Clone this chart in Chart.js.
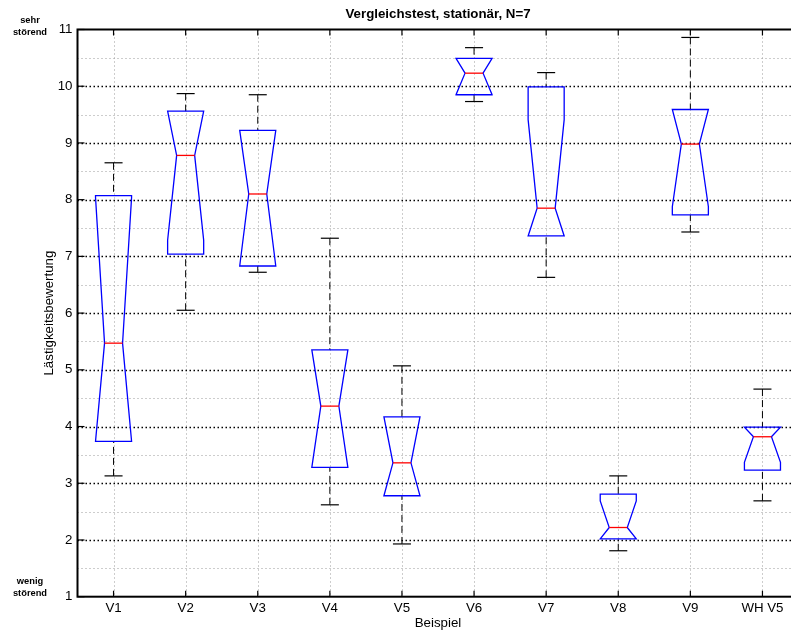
<!DOCTYPE html>
<html>
<head>
<meta charset="utf-8">
<title>Vergleichstest, stationär, N=7</title>
<script src="https://cdn.jsdelivr.net/npm/chart.js@4.4.1/dist/chart.umd.min.js"></script>
<style>
  html, body { margin: 0; padding: 0; overflow: hidden; background: #fff; }
  canvas { display: block; }
</style>
</head>
<body>
<canvas id="boxChart" width="800" height="634"></canvas>
<script>
// === Lästigkeitsbewertung per Beispiel, 7 listeners ===
const categories = ["V1", "V2", "V3", "V4", "V5", "V6", "V7", "V8", "V9", "WH V5"];
const whiskerHigh = [8.65, 9.87, 9.85, 7.32, 5.07, 10.68, 10.24, 3.13, 10.86, 4.66];
const upperQuartile = [8.07, 9.56, 9.22, 5.35, 4.17, 10.49, 9.99, 2.81, 9.59, 3.99];
const medians = [5.47, 8.78, 8.10, 4.36, 3.36, 10.23, 7.85, 2.22, 8.98, 3.82];
const lowerQuartile = [3.74, 7.04, 6.83, 3.28, 2.78, 9.85, 7.36, 2.02, 7.73, 3.23];
const whiskerLow = [3.13, 6.05, 6.72, 2.62, 1.93, 9.73, 6.63, 1.81, 7.43, 2.69];
const sampleSize = 7;

const ratingMin = 1;
const ratingMax = 11;

const FONT = "'Liberation Sans', Arial, Helvetica, sans-serif";
Chart.defaults.font.family = FONT;
Chart.defaults.color = "#000";

function strokeLine(ctx, x1, y1, x2, y2, color, width, dash) {
  ctx.save();
  ctx.strokeStyle = color;
  ctx.lineWidth = width;
  ctx.setLineDash(dash || []);
  ctx.beginPath();
  ctx.moveTo(x1, y1);
  ctx.lineTo(x2, y2);
  ctx.stroke();
  ctx.restore();
}

// notched boxes (matlab style), grid, frame and annotations
const notchedBoxPlugin = {
  id: "notchedBoxes",
  beforeDatasetsDraw(chart) {
    const { ctx, chartArea: a, scales: { x, y } } = chart;

    categories.forEach((c, i) => {
      const px = Math.round(x.getPixelForValue(i)) + 0.5;
      strokeLine(ctx, px, a.top, px, a.bottom, "#9a9a9a", 1, [1, 3]);
    });

    for (let v = ratingMin + 0.5; v < ratingMax; v += 1) {
      const py = Math.round(y.getPixelForValue(v)) + 0.5;
      strokeLine(ctx, a.left, py, a.right, py, "#9a9a9a", 1, [1, 3]);
    }
    for (let v = ratingMin + 1; v < ratingMax; v += 1) {
      const py = Math.round(y.getPixelForValue(v)) + 0.5;
      strokeLine(ctx, a.left, py, a.right, py, "#000", 1.5, [1.5, 2.5]);
    }
  },
  afterDatasetsDraw(chart) {
    const { ctx, chartArea: a, scales: { x, y } } = chart;
    const step = x.getPixelForValue(1) - x.getPixelForValue(0);
    const half = step * 0.25; // box width 0.5 of category spacing

    categories.forEach((c, i) => {
      const cx = x.getPixelForValue(i);
      const q1 = lowerQuartile[i];
      const q3 = upperQuartile[i];
      const med = medians[i];
      const notch = (1.57 * (q3 - q1)) / Math.sqrt(sampleSize);
      const nLo = Math.max(q1, med - notch);
      const nHi = Math.min(q3, med + notch);

      // whiskers + caps
      strokeLine(ctx, cx, y.getPixelForValue(whiskerHigh[i]), cx, y.getPixelForValue(q3), "#000", 1, [7, 4]);
      strokeLine(ctx, cx, y.getPixelForValue(whiskerLow[i]), cx, y.getPixelForValue(q1), "#000", 1, [7, 4]);
      strokeLine(ctx, cx - half / 2, y.getPixelForValue(whiskerHigh[i]), cx + half / 2, y.getPixelForValue(whiskerHigh[i]), "#000", 1.2);
      strokeLine(ctx, cx - half / 2, y.getPixelForValue(whiskerLow[i]), cx + half / 2, y.getPixelForValue(whiskerLow[i]), "#000", 1.2);

      // box with notch
      ctx.save();
      ctx.strokeStyle = "#0000ff";
      ctx.lineWidth = 1.3;
      ctx.beginPath();
      ctx.moveTo(cx - half, y.getPixelForValue(q1));
      ctx.lineTo(cx - half, y.getPixelForValue(nLo));
      ctx.lineTo(cx - half / 2, y.getPixelForValue(med));
      ctx.lineTo(cx - half, y.getPixelForValue(nHi));
      ctx.lineTo(cx - half, y.getPixelForValue(q3));
      ctx.lineTo(cx + half, y.getPixelForValue(q3));
      ctx.lineTo(cx + half, y.getPixelForValue(nHi));
      ctx.lineTo(cx + half / 2, y.getPixelForValue(med));
      ctx.lineTo(cx + half, y.getPixelForValue(nLo));
      ctx.lineTo(cx + half, y.getPixelForValue(q1));
      ctx.closePath();
      ctx.stroke();
      ctx.restore();

      strokeLine(ctx, cx - half / 2, y.getPixelForValue(med), cx + half / 2, y.getPixelForValue(med), "#ff0000", 1.3);
    });

    // tick marks pointing inwards
    categories.forEach((c, i) => {
      const px = x.getPixelForValue(i);
      strokeLine(ctx, px, a.top, px, a.top + 6, "#000", 1.2);
      strokeLine(ctx, px, a.bottom, px, a.bottom - 6, "#000", 1.2);
    });
    for (let v = ratingMin; v <= ratingMax; v += 1) {
      const py = y.getPixelForValue(v);
      strokeLine(ctx, a.left, py, a.left + 7, py, "#000", 1.2);
    }

    // axes frame
    ctx.save();
    ctx.strokeStyle = "#000";
    ctx.lineWidth = 2;
    ctx.strokeRect(a.left, a.top, a.right - a.left, a.bottom - a.top);
    ctx.restore();
  },
  afterDraw(chart) {
    const { ctx, chartArea: a } = chart;
    const midX = (a.left + a.right) / 2;
    const midY = (a.top + a.bottom) / 2;

    ctx.save();
    ctx.fillStyle = "#000";
    ctx.textBaseline = "alphabetic";
    ctx.textAlign = "center";

    ctx.font = `bold 13.3px ${FONT}`;
    ctx.fillText("Vergleichstest, stationär, N=7", midX, 18.3);

    ctx.font = `13.3px ${FONT}`;
    ctx.fillText("Beispiel", midX, 627);

    ctx.font = `bold 9.3px ${FONT}`;
    ctx.fillText("sehr", 30, 23.3);
    ctx.fillText("störend", 30, 35.3);
    ctx.fillText("wenig", 30, 584.3);
    ctx.fillText("störend", 30, 595.5);

    ctx.translate(52.5, midY);
    ctx.rotate(-Math.PI / 2);
    ctx.font = `13.3px ${FONT}`;
    ctx.fillText("Lästigkeitsbewertung", 0, 0);
    ctx.restore();
  },
};

new Chart(document.getElementById("boxChart"), {
  type: "line",
  data: { labels: categories, datasets: [] },
  options: {
    responsive: false,
    animation: false,
    devicePixelRatio: 1,
    layout: { padding: { top: 29.5, right: 1.5, bottom: 0, left: 0 } },
    plugins: {
      legend: { display: false },
      title: { display: false },
      tooltip: { enabled: false },
    },
    scales: {
      x: {
        type: "category",
        offset: true,
        grid: { display: false, drawTicks: false },
        border: { display: false },
        ticks: { color: "#000", font: { size: 13.3 }, padding: 3.5, autoSkip: false, maxRotation: 0 },
        afterFit: (scale) => { scale.height = 37.3; },
      },
      y: {
        min: ratingMin,
        max: ratingMax,
        grid: { display: false, drawTicks: false },
        border: { display: false },
        ticks: { stepSize: 1, color: "#000", font: { size: 13.3 }, padding: 5 },
        afterFit: (scale) => { scale.width = 77.5; },
      },
    },
  },
  plugins: [notchedBoxPlugin],
});
</script>
</body>
</html>
